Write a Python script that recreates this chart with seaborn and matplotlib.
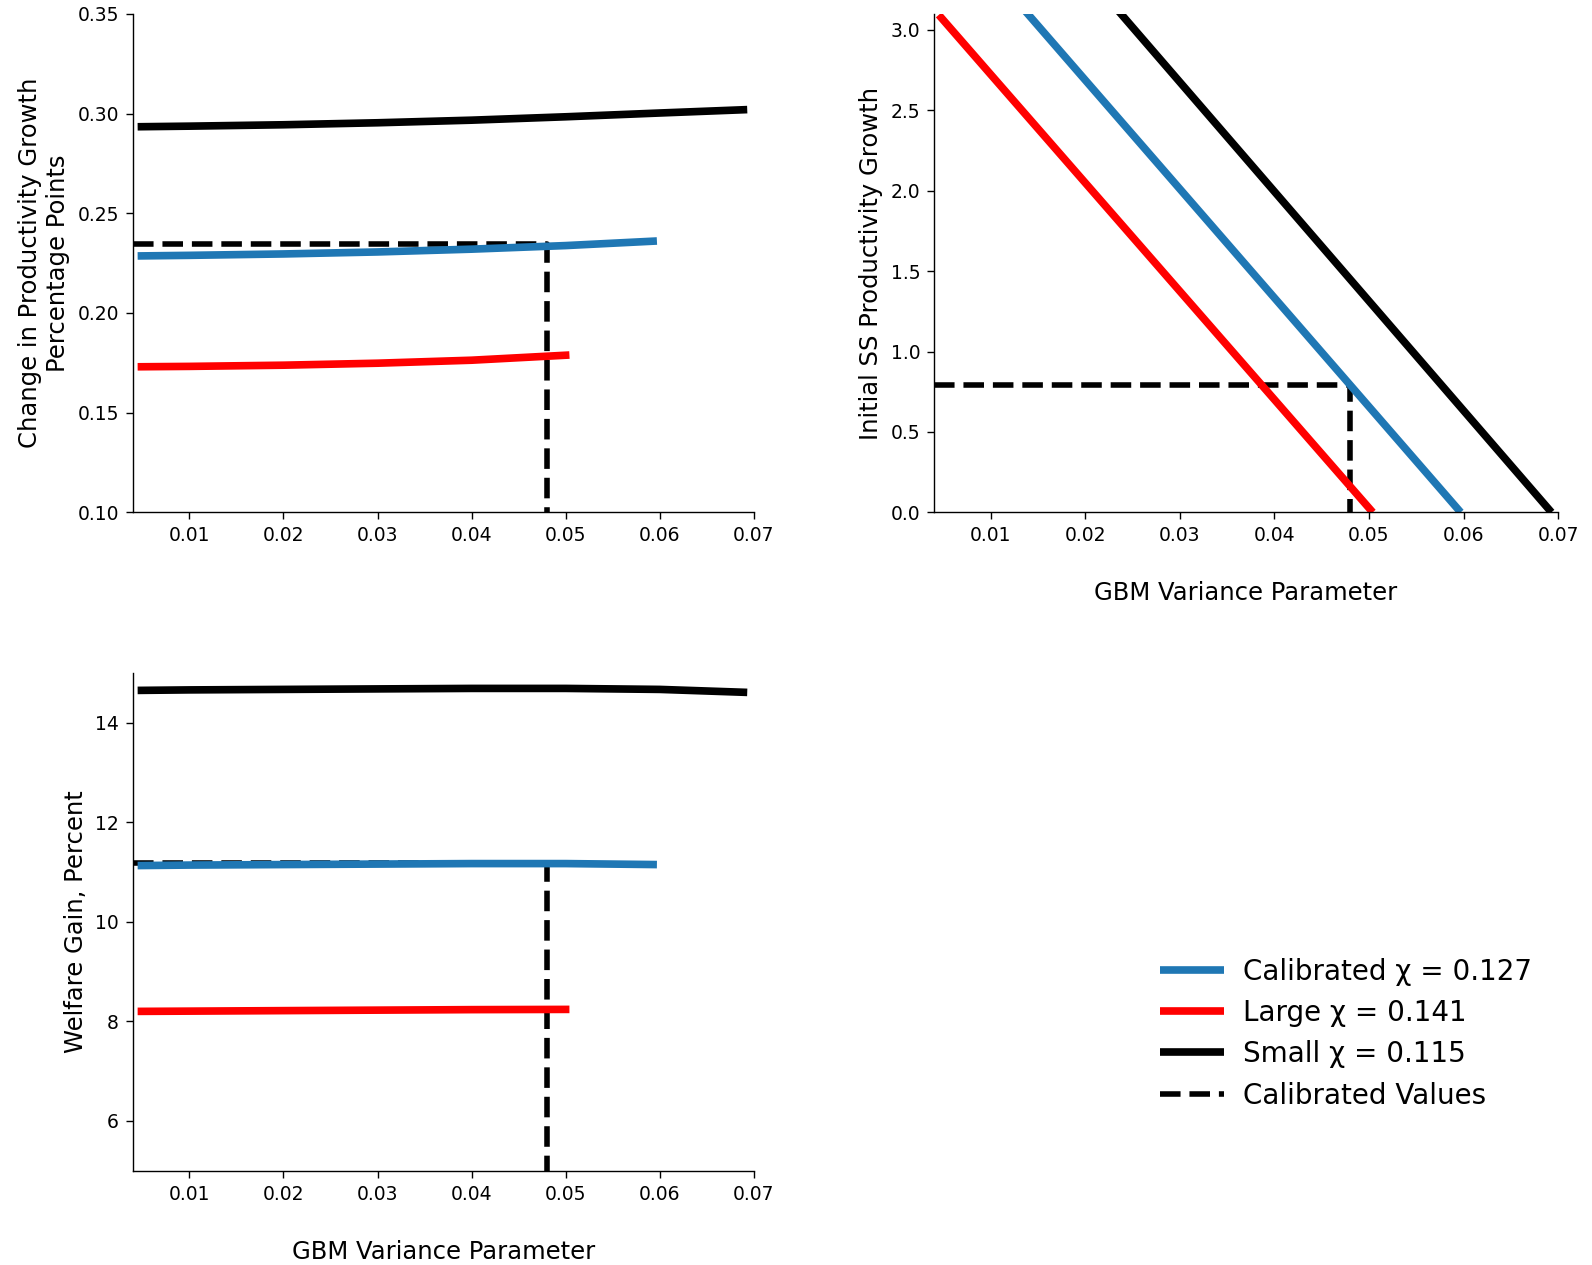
import numpy as np
import pandas as pd
import matplotlib
matplotlib.use('Agg')
import matplotlib.pyplot as plt
import seaborn as sns

# ── data ──
x_small = [0.0045, 0.01, 0.02, 0.03, 0.04, 0.05, 0.06, 0.0693]
x_calib = [0.0045, 0.01, 0.02, 0.03, 0.04, 0.05, 0.0597]
x_large = [0.0045, 0.01, 0.02, 0.03, 0.04, 0.0504]

# change in productivity growth (pp)
dg_small = [0.2934, 0.2937, 0.2944, 0.2954, 0.2967, 0.2984, 0.3003, 0.3020]
dg_calib = [0.2286, 0.2289, 0.2296, 0.2306, 0.2320, 0.2338, 0.2361]
dg_large = [0.1730, 0.1732, 0.1738, 0.1748, 0.1763, 0.1789]

# initial steady state productivity growth
g0_small = [4.413, 4.041, 3.357, 2.676, 1.995, 1.314, 0.633, 0.0]
g0_calib = [3.737, 3.365, 2.688, 2.011, 1.334, 0.657, 0.0]
g0_large = [3.094, 2.723, 2.049, 1.375, 0.701, 0.0]

# welfare gain, percent
wg_small = [14.65, 14.66, 14.67, 14.68, 14.69, 14.69, 14.67, 14.61]
wg_calib = [11.13, 11.14, 11.15, 11.16, 11.17, 11.17, 11.15]
wg_large = [8.200, 8.205, 8.215, 8.225, 8.235, 8.240]

SERIES = ['Calibrated χ = 0.127', 'Large χ = 0.141', 'Small χ = 0.115']
COLORS = ['#1f77b4', '#ff0000', '#000000']

calib_x   = 0.048
calib_dg  = 0.2345
calib_g0  = 0.79
calib_wg  = 11.19
XMIN, XMAX = 0.004, 0.07


def make_df(vals_calib, vals_large, vals_small):
    parts = []
    for name, xs, ys in zip(SERIES, [x_calib, x_large, x_small],
                            [vals_calib, vals_large, vals_small]):
        parts.append(pd.DataFrame({'x': xs, 'y': ys, 'series': name}))
    return pd.concat(parts, ignore_index=True)


sns.set_style('ticks')
plt.rcParams['font.family'] = ['DejaVu Sans']
plt.rcParams.update({'text.color': 'black', 'axes.labelcolor': 'black',
                     'xtick.color': 'black', 'ytick.color': 'black',
                     'axes.edgecolor': 'black'})

fig = plt.figure(figsize=(15.92, 12.65), dpi=100)
ax1 = fig.add_axes([0.0835, 0.595, 0.390, 0.394])
ax2 = fig.add_axes([0.5867, 0.595, 0.392, 0.394])
ax3 = fig.add_axes([0.0835, 0.0746, 0.390, 0.3934])

panels = [
    (ax1, make_df(dg_calib, dg_large, dg_small), calib_dg, (0.10, 0.35),
     'Change in Productivity Growth\nPercentage Points', None),
    (ax2, make_df(g0_calib, g0_large, g0_small), calib_g0, (0.0, 3.1),
     'Initial SS Productivity Growth', 'GBM Variance Parameter'),
    (ax3, make_df(wg_calib, wg_large, wg_small), calib_wg, (5, 15),
     'Welfare Gain, Percent', 'GBM Variance Parameter'),
]

for ax, d, cy, ylim, ylab, xlab in panels:
    # dashed calibration guide, underneath the curves
    ax.plot([XMIN, calib_x, calib_x], [cy, cy, ylim[0]], color='black',
            ls='--', lw=4, zorder=1, label='Calibrated Values')
    sns.lineplot(data=d, x='x', y='y', hue='series', hue_order=SERIES,
                 palette=COLORS, lw=5.5, ax=ax, zorder=2, legend=True,
                 solid_capstyle='butt')
    ax.set_xlim(XMIN, XMAX)
    ax.set_ylim(*ylim)
    ax.set_xticks([0.01, 0.02, 0.03, 0.04, 0.05, 0.06, 0.07])
    ax.set_xticklabels(['0.01', '0.02', '0.03', '0.04', '0.05', '0.06', '0.07'])
    ax.tick_params(labelsize=13.5, length=5, width=1, pad=5)
    ax.set_ylabel(ylab, fontsize=17.5, labelpad=5.5)
    ax.set_xlabel(xlab if xlab else '', fontsize=17.5, labelpad=26)
    for s in ax.spines.values():
        s.set_linewidth(1)
    sns.despine(ax=ax)

ax1.set_yticks([0.10, 0.15, 0.20, 0.25, 0.30, 0.35])
ax1.set_yticklabels(['0.10', '0.15', '0.20', '0.25', '0.30', '0.35'])
ax2.set_yticks([0.0, 0.5, 1.0, 1.5, 2.0, 2.5, 3.0])
ax2.set_yticklabels(['0.0', '0.5', '1.0', '1.5', '2.0', '2.5', '3.0'])
ax3.set_yticks([6, 8, 10, 12, 14])

# shared legend in the empty bottom-right slot
h, l = ax3.get_legend_handles_labels()
lookup = dict(zip(l, h))
order = SERIES + ['Calibrated Values']
for ax in (ax1, ax2, ax3):
    if ax.get_legend() is not None:
        ax.get_legend().remove()
leg = fig.legend([lookup[k] for k in order], order, loc='center',
                 bbox_to_anchor=(0.8455, 0.183), frameon=False, fontsize=20,
                 handlelength=2.3, handletextpad=0.7, labelspacing=0.48)
for line in leg.get_lines()[:3]:
    line.set_linewidth(5.5)

fig.savefig('out.png', dpi=100)
